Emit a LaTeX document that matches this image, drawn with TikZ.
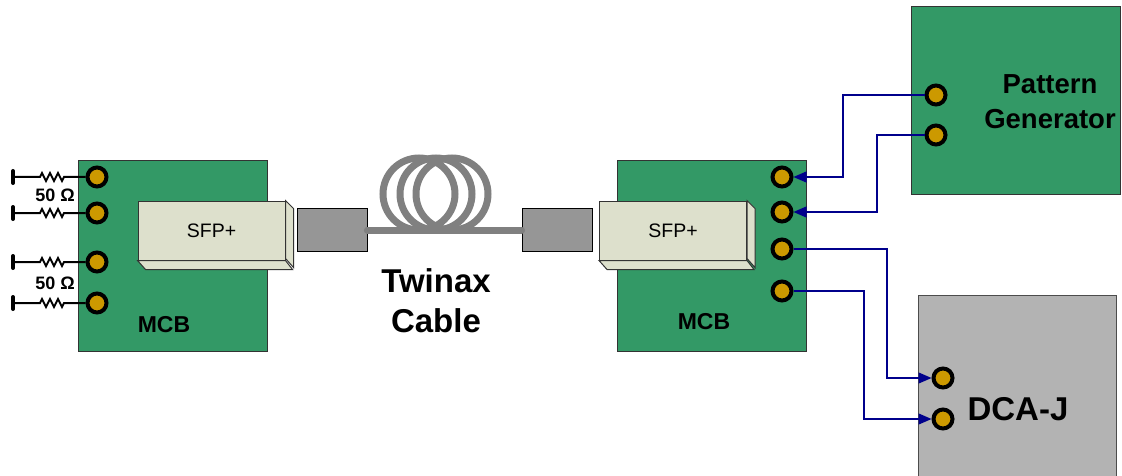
\documentclass[tikz,border=0pt]{standalone}
\usepackage{fontspec}
\setmainfont{Liberation Sans}
\usetikzlibrary{positioning}
\usetikzlibrary{arrows.meta,calc}
\definecolor{boardgreen}{RGB}{51,153,102}
\definecolor{jackgold}{RGB}{204,153,0}
\definecolor{sfpbeige}{RGB}{221,224,204}
\definecolor{pluggray}{RGB}{150,150,150}
\definecolor{cablegray}{RGB}{128,128,128}
\definecolor{wireblue}{RGB}{0,0,140}
\definecolor{dcagray}{RGB}{179,179,179}
\tikzset{
  board/.style={draw=black!80, fill=boardgreen, line width=1pt, inner sep=0pt},
  jack/.style={circle, draw=black, fill=jackgold, line width=4pt, minimum size=19pt, inner sep=0pt},
  sfp/.style={draw=black!80, fill=sfpbeige, line width=1pt, inner sep=0pt, font=\fontsize{19.5}{23}\selectfont},
  plug/.style={draw=black, fill=pluggray, line width=0.8pt, minimum width=70pt, minimum height=43pt, inner sep=0pt},
  wire/.style={draw=wireblue, line width=1.2pt, -{Triangle[length=13pt,width=11pt]}},
  res/.style={draw=black, line width=2pt},
}

\begin{document}
\begin{tikzpicture}[x=1pt,y=-1pt]
\useasboundingbox (0,0) rectangle (1122,476);
% boards
\node[board, minimum width=189pt, minimum height=190pt] (lmcb) at (172.5,256) {};
\node[board, minimum width=189pt, minimum height=190pt] (rmcb) at (711.5,256) {};
\node[board, minimum width=209pt, minimum height=187pt] (pg) at (1015.5,100.5) {};
\node[draw=black!70, fill=dcagray, line width=1pt, minimum width=198pt, minimum height=200pt, inner sep=0pt] (dca) at (1017,395) {};
\node[font=\fontsize{23}{27}\selectfont\bfseries] (lmcbtxt) at (164,325) {MCB};
\node[font=\fontsize{23}{27}\selectfont\bfseries] (rmcbtxt) at (704,322) {MCB};
\node[font=\fontsize{27.5}{35}\selectfont\bfseries, align=center] (pgtxt) at (1050,102) {Pattern\\Generator};
\node[font=\fontsize{33}{40}\selectfont\bfseries] (dcatxt) at (1018,409) {DCA-J};
\node[font=\fontsize{33}{40}\selectfont\bfseries, align=center] (twinax) at (436,301) {Twinax\\Cable};

% SFP+ modules
\foreach \n/\x in {lsfp/211.5, rsfp/673} {
  \node[sfp, minimum width=147pt, minimum height=59pt] (\n) at (\x,230.5) {SFP+};
  \draw[sfp] (\n.north east) -- ++(8,8) -- ++(0,59) -- ++(-8,-9) -- cycle;
  \draw[sfp] (\n.south west) -- ++(8,9) -- ++(147,0) -- (\n.south east) -- cycle;
}

% plugs and cable
\node[plug] (lplug) at (332,230) {};
\node[plug] (rplug) at (557,230) {};
\foreach \cx in {419,436,452}
  \draw[cablegray, line width=7pt] (\cx,194) circle (36);
\draw[cablegray, line width=7pt, line cap=round] (lplug.east) -- (rplug.west);

% jacks
\foreach \i/\y in {1/177, 2/213, 3/262, 4/303} {
  \node[jack] (lj\i) at (97,\y) {};
  \coordinate (g\i) at (13,\y);
  \draw[black, line width=4pt, line cap=round] ($(g\i)+(0,-6)$) -- ($(g\i)+(0,6)$);
  \draw[res] (g\i) -- ++(27,0) -- ++(2,-4) -- ++(4,8) -- ++(4,-8) -- ++(4,8)
    -- ++(4,-8) -- ++(4,8) -- ++(2,-4) -- (lj\i.west);
}
\node[font=\fontsize{18}{21}\selectfont\bfseries] (ohm1) at (55,195) {50 Ω};
\node[font=\fontsize{18}{21}\selectfont\bfseries] (ohm2) at (55,283) {50 Ω};
\foreach \i/\y in {1/177, 2/212, 3/249, 4/291}
  \node[jack] (rj\i) at (782,\y) {};
\node[jack] (pg1) at (936,95) {};
\node[jack] (pg2) at (936,135) {};
\node[jack] (dc1) at (943,378) {};
\node[jack] (dc2) at (943,419) {};

% wiring
\coordinate (b1) at (843,0);
\coordinate (b2) at (877,0);
\coordinate (b3) at (887,0);
\coordinate (b4) at (864,0);
\draw[wire] (pg1.west) -| (b1 |- rj1) -- (rj1.east);
\draw[wire] (pg2.west) -| (b2 |- rj2) -- (rj2.east);
\draw[wire] (rj3.east) -| (b3 |- dc1) -- (dc1.west);
\draw[wire] (rj4.east) -| (b4 |- dc2) -- (dc2.west);
\end{tikzpicture}
\end{document}
